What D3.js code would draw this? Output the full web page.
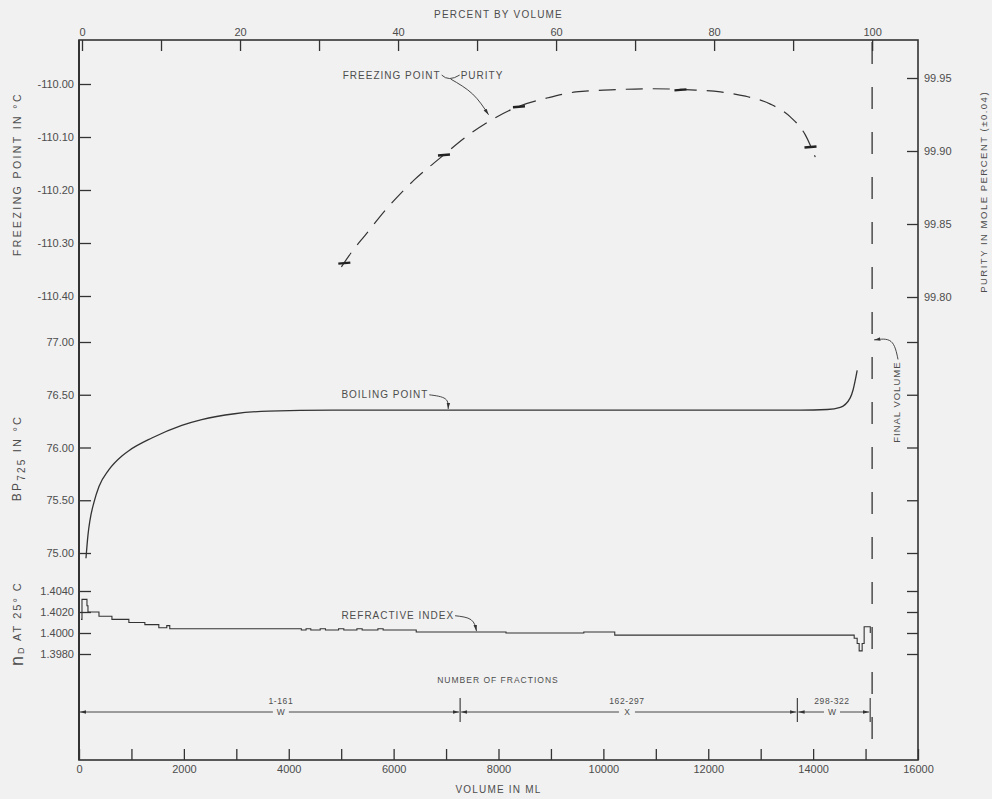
<!DOCTYPE html>
<html><head><meta charset="utf-8">
<script src="https://cdn.jsdelivr.net/npm/d3@7"></script>
<style>
html,body{margin:0;padding:0;background:#f1f1f1;}
svg{display:block;}
text{font-family:"Liberation Sans",Arial,sans-serif;fill:#4d4d4d;}
</style></head><body>
<svg id="chart" width="992" height="799"></svg>
<script>
// ---------- data ----------
const volumeTicks = d3.range(0, 16001, 1000);
const volumeLabelTicks = d3.range(0, 16001, 2000);
const percentTicks = d3.range(0, 101, 10);
const fpTicks = [-110.00, -110.10, -110.20, -110.30, -110.40];
const bpTicks = [75.00, 75.50, 76.00, 76.50, 77.00];
const riTicks = [1.3980, 1.4000, 1.4020, 1.4040];
const purityTicks = [99.80, 99.85, 99.90, 99.95];
const finalVolume = 15125;

// freezing point (dashed curve) and measured points
const fpCurveVolume = [5004, 5230, 5460, 5879, 6393, 6906, 7401, 7896, 8390, 8942, 9475, 10141, 10902, 11663, 12234, 12709, 13185, 13565, 13851, 14041];
const fpCurveValue = [-110.345, -110.313, -110.285, -110.234, -110.181, -110.138, -110.098, -110.066, -110.042, -110.026, -110.015, -110.011, -110.009, -110.011, -110.015, -110.023, -110.038, -110.062, -110.096, -110.138];
const fpPointVolume = [5060, 6960, 8390, 11470, 13950];
const fpPointValue = [-110.338, -110.134, -110.043, -110.011, -110.119];

// boiling point
const bpVolume = [133, 171, 209, 285, 381, 571, 818, 951, 1389, 1960, 2340, 2968, 3615, 4814, 8000, 12000, 13756, 14270, 14517, 14707, 14764, 14840];
const bpValue = [74.95, 75.17, 75.31, 75.48, 75.63, 75.79, 75.92, 75.97, 76.09, 76.21, 76.265, 76.32, 76.345, 76.355, 76.355, 76.355, 76.355, 76.36, 76.38, 76.47, 76.55, 76.73];

// refractive index (stepped)
const riVolume = [38, 57, 114, 152, 171, 304, 381, 628, 951, 1256, 1522, 1674, 1731, 4240, 4330, 4420, 4600, 4700, 4950, 5050, 5300, 5400, 5700, 5800, 6431, 8143, 9627, 10217, 14726, 14783, 14840, 14878, 14935, 14973, 15090];
const riValue = [1.4013, 1.4032, 1.4032, 1.4026, 1.4020, 1.4020, 1.4016, 1.4013, 1.4010, 1.4008, 1.4005, 1.4007, 1.4004, 1.40028, 1.4004, 1.40028, 1.4004, 1.40028, 1.4004, 1.40028, 1.4004, 1.40028, 1.4004, 1.40028, 1.4001, 1.4000, 1.4001, 1.3998, 1.3998, 1.3995, 1.3990, 1.3983, 1.3990, 1.4006, 1.4000];

// fractions
const fractionBounds = [0, 7268, 13699, 15088];
const fractionRanges = ["1-161", "162-297", "298-322"];
const fractionCodes = ["W", "X", "W"];
const fractionLabelVolume = [3850, 10450, 14360];

// ---------- layout ----------
const L = 79, R = 918, T = 40, B = 760;
const svg = d3.select("#chart");
const ink = "#333";

const x = d3.scaleLinear().domain([0, 16000]).range([L, R]);
const pct = d3.scaleLinear().domain([0, 100]).range([x(0) + 3, x(finalVolume)]);
const fpY = d3.scaleLinear().domain([-110.40, -110.00]).range([296, 84]);
const purY = d3.scaleLinear().domain([99.80, 99.95]).range([297, 78]);
const bpY = d3.scaleLinear().domain([75, 77]).range([553, 342]);
const riY = d3.scaleLinear().domain([1.398, 1.404]).range([654, 591]);

const defs = svg.append("defs");
defs.append("marker").attr("id", "arr").attr("viewBox", "0 0 10 10")
  .attr("refX", 10).attr("refY", 5).attr("markerWidth", 7).attr("markerHeight", 7)
  .attr("orient", "auto-start-reverse")
  .append("path").attr("d", "M0,2.2L10,5L0,7.8z").attr("fill", ink);

svg.append("rect").attr("width", 992).attr("height", 799).attr("fill", "#f1f1f1");

function styleAxis(g, size) {
  g.select(".domain").remove();
  g.selectAll(".tick line").attr("stroke", ink).attr("stroke-width", 1.3);
  g.selectAll(".tick text").attr("font-size", size || 11).attr("fill", "#4d4d4d")
    .attr("font-family", "\"Liberation Sans\",Arial,sans-serif");
}
const f2 = d => d.toFixed(2);

// bottom axis
svg.append("g").attr("transform", `translate(0,${B})`)
  .call(d3.axisBottom(x).tickValues(volumeTicks).tickSizeInner(-11).tickSizeOuter(0).tickPadding(5)
    .tickFormat(d => volumeLabelTicks.includes(d) ? d : ""))
  .call(g => styleAxis(g, 11));

// top axis
svg.append("g").attr("transform", `translate(0,${T})`)
  .call(d3.axisTop(pct).tickValues(percentTicks).tickSizeInner(-11).tickSizeOuter(0).tickPadding(4)
    .tickFormat(d => d % 20 === 0 ? d : ""))
  .call(g => styleAxis(g, 11));

// left axes
const leftG = svg.append("g").attr("transform", `translate(${L},0)`);
leftG.append("g").call(d3.axisLeft(fpY).tickValues(fpTicks).tickSizeInner(-12).tickPadding(5).tickFormat(f2)).call(g => styleAxis(g));
leftG.append("g").call(d3.axisLeft(bpY).tickValues(bpTicks).tickSizeInner(-12).tickPadding(5).tickFormat(f2)).call(g => styleAxis(g));
leftG.append("g").call(d3.axisLeft(riY).tickValues(riTicks).tickSizeInner(-12).tickPadding(5).tickFormat(d => d.toFixed(4))).call(g => styleAxis(g));

// right axes
const rightG = svg.append("g").attr("transform", `translate(${R},0)`);
rightG.append("g").call(d3.axisRight(purY).tickValues(purityTicks).tickSizeInner(-11).tickPadding(6).tickFormat(f2)).call(g => styleAxis(g));
rightG.append("g").call(d3.axisRight(bpY).tickValues(bpTicks).tickSizeInner(-11).tickFormat("")).call(g => styleAxis(g));
rightG.append("g").call(d3.axisRight(riY).tickValues(riTicks).tickSizeInner(-11).tickFormat("")).call(g => styleAxis(g));

// frame
svg.append("rect").attr("x", L).attr("y", T).attr("width", R - L).attr("height", B - T)
  .attr("fill", "none").attr("stroke", ink).attr("stroke-width", 1.6);
svg.append("line").attr("x1", L).attr("x2", L).attr("y1", T).attr("y2", B)
  .attr("stroke", ink).attr("stroke-width", 2);

// final volume dashed line
svg.append("line").attr("x1", x(finalVolume)).attr("x2", x(finalVolume)).attr("y1", T + 2).attr("y2", B)
  .attr("stroke", ink).attr("stroke-width", 1.3).attr("stroke-dasharray", "22,23");

// freezing point curve
const fpData = fpCurveVolume.map((v, i) => [v, fpCurveValue[i]]);
svg.append("path").datum(fpData)
  .attr("d", d3.line().x(d => x(d[0])).y(d => fpY(d[1])).curve(d3.curveMonotoneX))
  .attr("fill", "none").attr("stroke", ink).attr("stroke-width", 1.2).attr("stroke-dasharray", "17,10");
svg.selectAll(".fpPt").data(fpPointVolume.map((v, i) => [v, fpPointValue[i]])).enter().append("line")
  .attr("x1", d => x(d[0]) - 6).attr("x2", d => x(d[0]) + 6)
  .attr("y1", d => fpY(d[1]) + 0.5).attr("y2", d => fpY(d[1]) - 0.5)
  .attr("stroke", "#222").attr("stroke-width", 2.4);

// boiling point curve
const bpData = bpVolume.map((v, i) => [v, bpValue[i]]);
svg.append("path").datum(bpData)
  .attr("d", d3.line().x(d => x(d[0])).y(d => bpY(d[1])).curve(d3.curveMonotoneX))
  .attr("fill", "none").attr("stroke", ink).attr("stroke-width", 1.3);

// refractive index
const riData = riVolume.map((v, i) => [v, riValue[i]]);
svg.append("path").datum(riData)
  .attr("d", d3.line().x(d => x(d[0])).y(d => riY(d[1])).curve(d3.curveStepAfter))
  .attr("fill", "none").attr("stroke", ink).attr("stroke-width", 1.1);

// ---------- labels ----------
function label(txt, px, py, opts = {}) {
  const t = svg.append("text").attr("x", px).attr("y", py).text(txt)
    .attr("font-size", opts.size || 10).attr("letter-spacing", opts.ls == null ? 1 : opts.ls)
    .attr("text-anchor", opts.anchor || "start").attr("dominant-baseline", "middle");
  if (opts.rotate) t.attr("transform", `rotate(-90,${px},${py})`);
  return t;
}
function leader(pts, arrow) {
  const p = svg.append("path").attr("d", d3.line().curve(d3.curveNatural)(pts))
    .attr("fill", "none").attr("stroke", ink).attr("stroke-width", 0.9);
  if (arrow) p.attr("marker-end", "url(#arr)");
}

// freezing point – purity
const fpLy = fpY(-109.985);
const fpT = label("FREEZING POINT", x(5030), fpLy);
const fpEnd = x(5030) + fpT.node().getComputedTextLength();
svg.append("path").attr("d", `M${fpEnd + 1},${fpLy - 1} Q${fpEnd + 8},${fpLy + 6} ${fpEnd + 19},${fpLy - 1}`)
  .attr("fill", "none").attr("stroke", ink).attr("stroke-width", 0.9);
label("PURITY", fpEnd + 20, fpLy);
leader([[fpEnd + 10, fpLy + 3], [fpEnd + 32, fpLy + 18], [x(7810), fpY(-110.058)]], true);

// boiling point
const bpLy = bpY(76.49);
const bpT = label("BOILING POINT", x(5004), bpLy);
const bpEnd = x(5004) + bpT.node().getComputedTextLength();
leader([[bpEnd + 1, bpLy - 1], [bpEnd + 17, bpLy + 3], [x(7040), bpY(76.365)]], true);

// refractive index
const riLy = riY(1.40155);
const riT = label("REFRACTIVE INDEX", x(5004), riLy);
const riEnd = x(5004) + riT.node().getComputedTextLength();
leader([[riEnd + 1, riLy - 1], [riEnd + 17, riLy + 3], [x(7580), riY(1.40018)]], true);

// final volume
const fvX = x(15600), fvY = bpY(76.43);
const fvT = label("FINAL VOLUME", fvX, fvY, { anchor: "middle", rotate: true, size: 9.5 });
const fvHalf = fvT.node().getComputedTextLength() / 2;
leader([[fvX + 1, fvY - fvHalf - 2], [fvX - 6, fvY - fvHalf - 20], [x(finalVolume) + 2, bpY(77.02)]], true);

// axis titles
label("PERCENT BY VOLUME", x(8000), 15, { anchor: "middle", size: 10, ls: 1.2 });
label("VOLUME IN ML", x(8000), 790, { anchor: "middle", size: 10, ls: 1.2 });
label("FREEZING POINT IN °C", 18, fpY(-110.17), { anchor: "middle", rotate: true, size: 10.5, ls: 2.4 });
const bpTitle = svg.append("text").attr("transform", `translate(18,${bpY(75.9)}) rotate(-90)`)
  .attr("text-anchor", "middle").attr("dominant-baseline", "middle").attr("font-size", 12).attr("letter-spacing", 2.2);
bpTitle.append("tspan").text("BP");
bpTitle.append("tspan").text("725").attr("font-size", 10).attr("dy", 4);
bpTitle.append("tspan").text(" IN °C").attr("dy", -4).attr("font-size", 11);
const riTitle = svg.append("text").attr("transform", `translate(18,${riY(1.4009)}) rotate(-90)`)
  .attr("text-anchor", "middle").attr("dominant-baseline", "middle").attr("font-size", 11).attr("letter-spacing", 2);
riTitle.append("tspan").text("n").attr("font-size", 18);
riTitle.append("tspan").text("D").attr("font-size", 9).attr("dy", 4);
riTitle.append("tspan").text(" AT 25° C").attr("dy", -4);
label("PURITY IN MOLE PERCENT (±0.04)", 984, purY(99.872), { anchor: "middle", rotate: true, size: 9.5, ls: 1.5 });

// fractions
const fracY = 712;
label("NUMBER OF FRACTIONS", x(7990), 681, { anchor: "middle", size: 8.5, ls: 1 });
fractionBounds.slice(1).forEach(b => {
  svg.append("line").attr("x1", x(b)).attr("x2", x(b)).attr("y1", fracY - 14).attr("y2", fracY + 10)
    .attr("stroke", ink).attr("stroke-width", 1.1);
});
fractionRanges.forEach((r, i) => {
  const x0 = x(fractionBounds[i]) + 1, x1 = x(fractionBounds[i + 1]) - 1, xm = x(fractionLabelVolume[i]);
  svg.append("line").attr("x1", xm - 8).attr("x2", x0).attr("y1", fracY).attr("y2", fracY)
    .attr("stroke", ink).attr("stroke-width", 0.9).attr("marker-end", "url(#arr)");
  svg.append("line").attr("x1", xm + 8).attr("x2", x1).attr("y1", fracY).attr("y2", fracY)
    .attr("stroke", ink).attr("stroke-width", 0.9).attr("marker-end", "url(#arr)");
  label(r, xm, fracY - 10, { anchor: "middle", size: 8.5, ls: 0.6 });
  label(fractionCodes[i], xm, fracY + 1, { anchor: "middle", size: 8.5, ls: 0 });
});
</script>
</body></html>
